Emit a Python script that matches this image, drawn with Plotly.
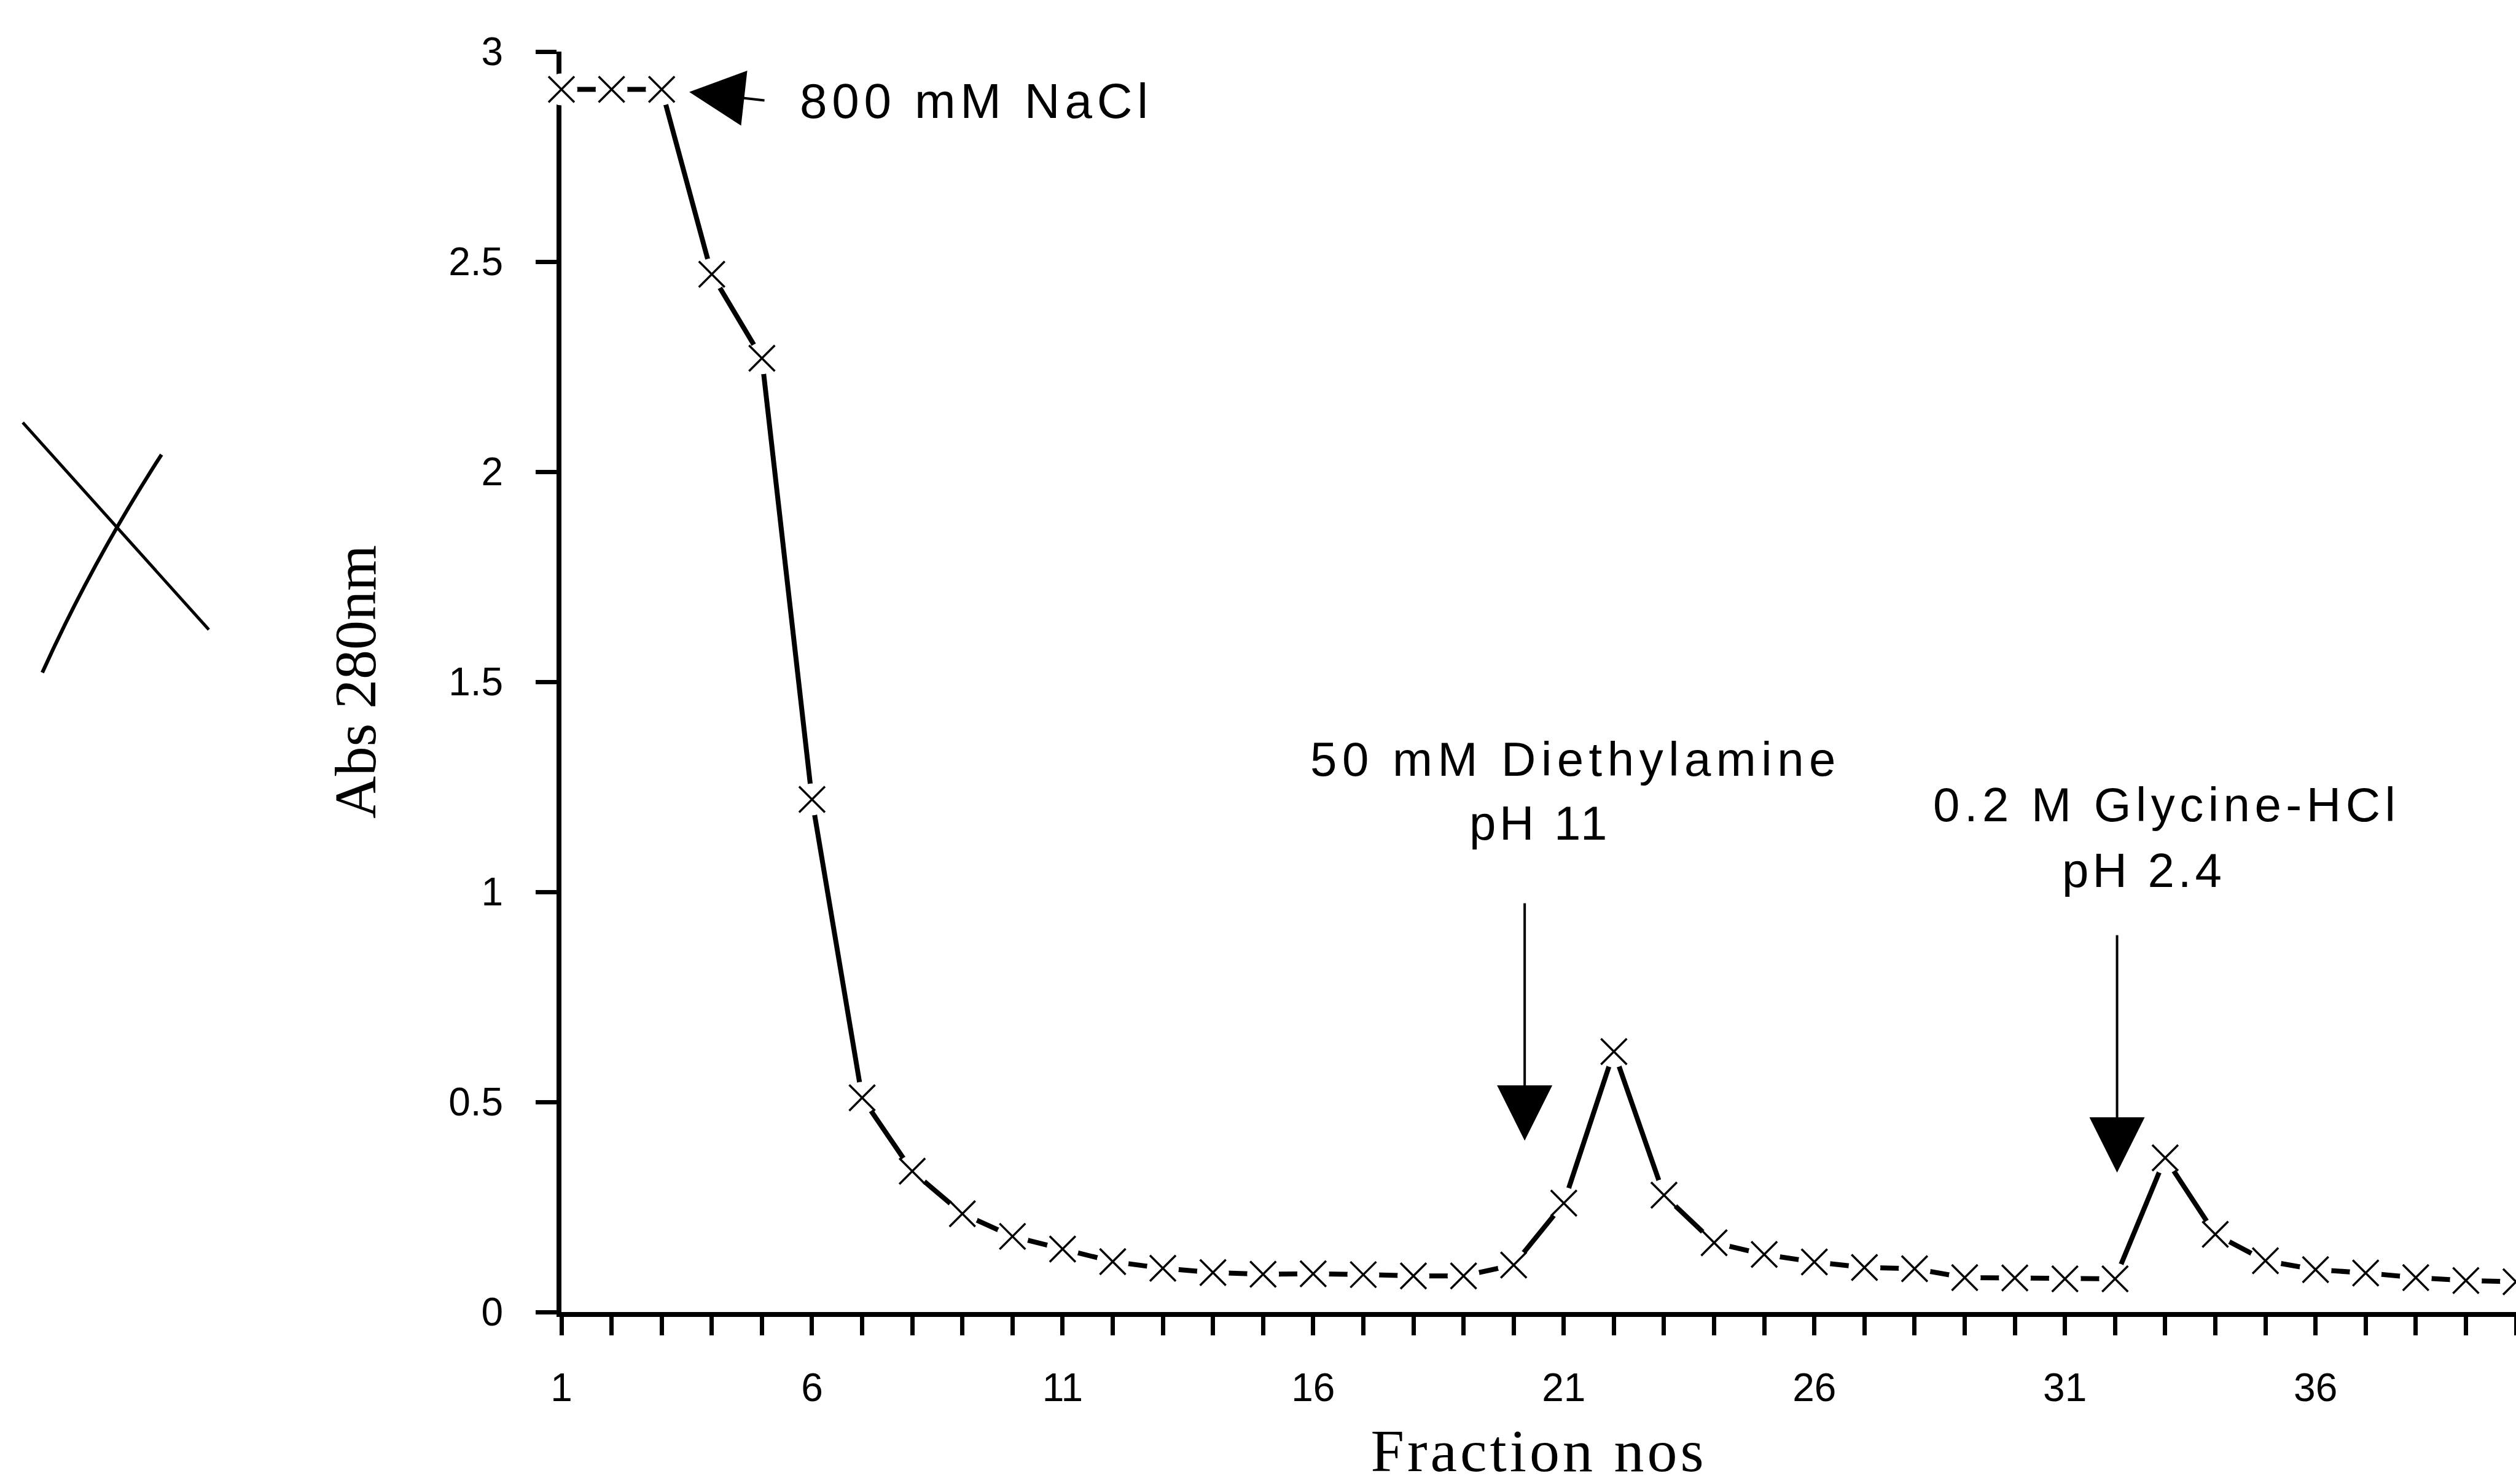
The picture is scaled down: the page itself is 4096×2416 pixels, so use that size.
import plotly.graph_objects as go

# ---------------- data ----------------
fractions = list(range(1, 41))
abs280 = [2.91, 2.91, 2.91, 2.47, 2.27, 1.22, 0.51, 0.335, 0.234, 0.18,
          0.15, 0.12, 0.104, 0.094, 0.09, 0.091, 0.089, 0.086, 0.086, 0.112,
          0.259, 0.62, 0.278, 0.165, 0.137, 0.119, 0.106, 0.103, 0.082, 0.081,
          0.079, 0.079, 0.367, 0.185, 0.122, 0.101, 0.093, 0.082, 0.075, 0.072]

x_title = "Fraction nos"
y_title = "Abs 280nm"

# eluent labels: text, fraction position, absorbance position
label_texts = ["800 mM NaCl", "50 mM Diethylamine", "pH 11", "0.2 M Glycine-HCl", "pH 2.4"]
label_x = [5.73, 21.23, 20.53, 33.03, 32.57]
label_y = [2.882, 1.316, 1.164, 1.208, 1.051]

# arrows pointing at elution start: tip fraction, tip absorbance
arrow_x = [3.55, 20.22, 32.04]
arrow_y = [2.904, 0.408, 0.332]

fig = go.Figure()

# line with white gaps around each point
fig.add_trace(go.Scatter(
    x=fractions, y=abs280, mode="lines+markers",
    line=dict(color="black", width=8),
    marker=dict(symbol="circle", size=52, color="white", line=dict(width=0)),
    cliponaxis=False, hoverinfo="skip", showlegend=False))
# x markers
fig.add_trace(go.Scatter(
    x=fractions, y=abs280, mode="markers",
    marker=dict(symbol="x-thin", size=42, color="black",
                line=dict(color="black", width=3.5)),
    cliponaxis=False, showlegend=False))

def spaced(txt, ls):
    return '<span style="letter-spacing:%spx">%s</span>' % (ls, txt)

sans = "Liberation Sans, Arial, sans-serif"
serif = "Liberation Serif, Times New Roman, serif"

annotations = []
label_sizes = [80, 78, 78, 78, 78]
label_ls = [7.8, 8.5, 5.5, 7.5, 6]
label_anchor = ["left", "center", "center", "center", "center"]
for t, x, y, s, ls, a in zip(label_texts, label_x, label_y, label_sizes, label_ls, label_anchor):
    annotations.append(dict(x=x, y=y, xref="x", yref="y", text=spaced(t, ls),
                            showarrow=False, xanchor=a, yanchor="middle",
                            font=dict(family=sans, size=s, color="black")))

arrow_ax = [124, 0, 0]
arrow_ay = [14, -388, -388]
for x, y, ax, ay in zip(arrow_x, arrow_y, arrow_ax, arrow_ay):
    annotations.append(dict(x=x, y=y, xref="x", yref="y", text="",
                            showarrow=True, arrowhead=2, arrowsize=4.5,
                            arrowwidth=4, arrowcolor="black",
                            ax=ax, ay=ay, standoff=0, startstandoff=0))

fig.update_layout(
    width=4096, height=2416, autosize=False,
    margin=dict(l=914, r=0, t=84, b=280, pad=0),
    paper_bgcolor="white", plot_bgcolor="white", showlegend=False,
    font=dict(family=sans, color="black"),
    annotations=annotations,
)

fig.update_xaxes(
    range=[1, 40], tickmode="linear", tick0=1, dtick=5,
    ticks="outside", ticklen=30, tickwidth=7, tickcolor="black",
    minor=dict(tickmode="linear", tick0=1, dtick=1, ticks="outside",
               ticklen=30, tickwidth=7, tickcolor="black", showgrid=False),
    showline=True, linecolor="black", linewidth=8,
    showgrid=False, zeroline=False, layer="below traces",
    tickfont=dict(family=sans, size=64, color="black"),
    ticklabelstandoff=30,
    title=dict(text=spaced(x_title, 5), font=dict(family=serif, size=98, color="black"),
               standoff=48),
)
fig.update_yaxes(
    range=[0, 3], tickmode="linear", tick0=0, dtick=0.5,
    ticks="outside", ticklen=34, tickwidth=7, tickcolor="black",
    showline=True, linecolor="black", linewidth=8,
    showgrid=False, zeroline=False, layer="below traces",
    tickfont=dict(family=sans, size=64, color="black"),
    ticklabelstandoff=40,
    title=dict(text=y_title, font=dict(family=serif, size=96, color="black"),
               standoff=90),
)

# stray hand-drawn cross at the left
fig.add_shape(type="line", xref="paper", yref="paper",
              x0=-0.2756, y0=0.7057, x1=-0.1804, y1=0.5414,
              line=dict(color="black", width=5))
fig.add_shape(type="path", xref="paper", yref="paper",
              path="M -0.2046,0.6803 Q -0.2401,0.5950 -0.2656,0.5073",
              line=dict(color="black", width=6))

fig.write_html("out.html")
